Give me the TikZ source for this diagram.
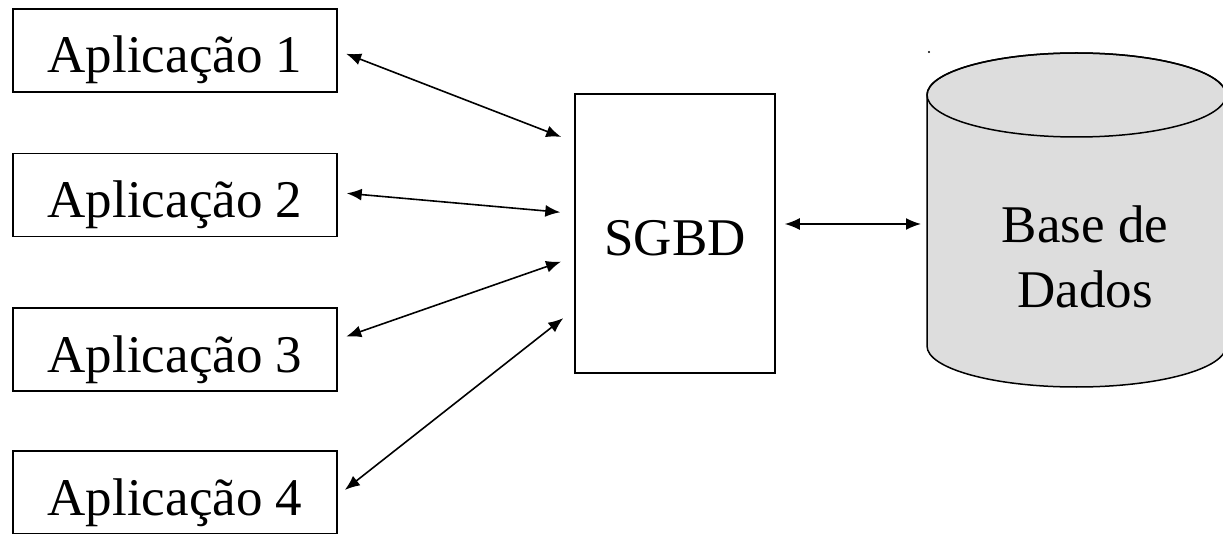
\documentclass[tikz,border=0pt]{standalone}
\usepackage{fontspec}
\setmainfont{Liberation Serif}
\usetikzlibrary{arrows.meta}
\definecolor{dbgray}{HTML}{DDDDDD}
\begin{document}
\begin{tikzpicture}[x=1pt,y=-1pt,>={Latex[length=15pt,width=12pt]},
  box/.style={draw,line width=1.5pt,inner sep=0pt,text height=45pt,text depth=0pt,font=\fontsize{53}{65}\selectfont},
  app/.style={box,minimum width=324pt,minimum height=83pt},
  link/.style={<->,line width=1.6pt,shorten <=9pt,shorten >=14pt}]
\useasboundingbox (0,0) rectangle (1223,534);
\node [app] (app1) at (175,50.5) {Aplicação 1};
\node [app] (app2) at (175,195) {Aplicação 2};
\node [app] (app3) at (175,349.5) {Aplicação 3};
\node [app] (app4) at (175,492.5) {Aplicação 4};
\node [box,minimum width=200pt,minimum height=279pt] (sgbd) at (675,233.5) {SGBD};
% base de dados
\filldraw [fill=dbgray,line width=1.5pt] (927,95) -- (927,346) arc [start angle=180,end angle=360,x radius=149.5pt,y radius=41pt] -- (1226,95) arc [start angle=0,end angle=180,x radius=149.5pt,y radius=42pt] -- cycle;
\draw [line width=1.5pt] (1076.5,95) ellipse [x radius=149.5pt,y radius=42pt];
\node [align=center,font=\fontsize{53}{65}\selectfont] (db) at (1085,257) {Base de\\Dados};
\coordinate (dbin) at (927,224);
\fill (929,52) circle (1.2pt);
\draw [link] (app1.east) -- ([yshift=91.5pt]sgbd.west);
\draw [link] ([yshift=2.5pt]app2.east) -- ([yshift=20pt]sgbd.west);
\draw [link] ([yshift=10pt]app3.east) -- ([yshift=-23.5pt]sgbd.west);
\draw [link] ([yshift=-3pt]app4.east) -- ([yshift=-76pt]sgbd.west);
\draw [<->,line width=1.6pt,shorten <=9pt,shorten >=6pt] ([yshift=9.5pt]sgbd.east) -- (dbin);
\end{tikzpicture}
\end{document}
